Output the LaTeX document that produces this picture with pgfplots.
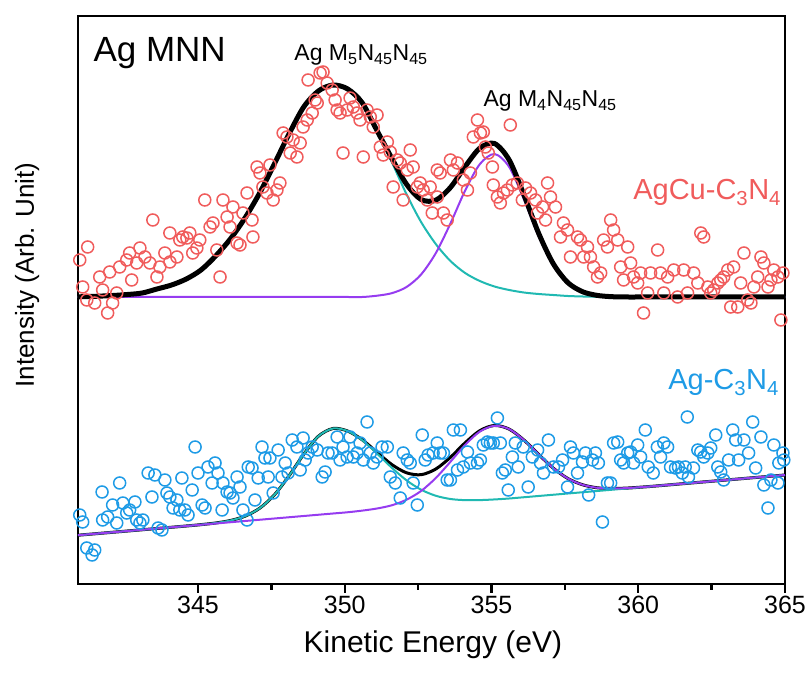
\documentclass[border=0pt]{standalone}
\usepackage{fontspec}
\setmainfont{Liberation Sans}
\usepackage{pgfplots}
\pgfplotsset{compat=1.18}
\definecolor{cred}{RGB}{240,92,92}
\definecolor{cblue}{RGB}{30,155,230}
\definecolor{cteal}{RGB}{32,185,178}
\definecolor{cpurp}{RGB}{150,60,240}
\begin{document}
\begin{tikzpicture}
\useasboundingbox (-78pt,-92pt) rectangle (730pt,584pt);
\begin{axis}[
  scale only axis, width=707pt, height=568pt,
  xmin=340.91, xmax=365, ymin=0, ymax=568,
  xtick={345,350,355,360,365}, minor x tick num=1,
  ytick=\empty, tick pos=bottom, tick align=outside,
  major tick length=9pt, minor tick length=6pt,
  every tick/.style={black, line width=2.4pt},
  axis line style={line width=2.8pt},
  /pgf/number format/assume math mode=true,
  xticklabel style={font=\fontsize{25}{30}\selectfont},
  xlabel={Kinetic Energy (eV)},
  ylabel={Intensity (Arb. Unit)},
  xlabel style={font=\fontsize{30}{36}\selectfont, at={(axis description cs:0.502,-0.107)}, anchor=center},
  ylabel style={font=\fontsize{26}{31}\selectfont, at={(axis description cs:-0.072,0.544)}, anchor=center},
]
% AgCu-C3N4 data
\addplot[only marks, mark=o, mark size=6pt, color=cred, mark options={line width=1.5pt}] coordinates {
(340.97,324)(341.24,337)(341.07,297)(341.21,284)(341.48,281)(341.92,271)(341.75,294)(342.09,281)(341.65,307)(341.99,312)
(342.33,317)(342.23,291)(342.57,324)(342.67,331)(342.91,321)(343.02,336)(342.74,304)(343.19,327)(343.36,321)(343.46,364)
(343.60,307)(343.70,317)(343.87,331)(344.04,322)(344.28,327)(344.04,351)(344.38,344)(344.48,347)(344.62,346)(344.72,351)
(344.82,331)(344.96,336)(345.06,344)(345.23,384)(345.41,357)(345.51,361)(345.64,334)(345.75,307)(345.85,384)(345.99,367)
(346.09,357)(346.19,377)(346.33,341)(346.43,339)(346.53,371)(346.67,391)(346.84,364)(346.87,347)(347.01,417)(347.11,411)
(347.21,397)(347.35,391)(347.45,419)(347.56,384)(347.69,394)(347.79,401)(347.90,451)(348.03,447)(348.14,431)(348.24,444)
(348.37,427)(348.48,441)(348.58,457)(348.72,464)(348.75,504)(348.89,471)(348.99,484)(349.06,481)(349.16,511)(349.26,512)
(349.40,501)(349.57,494)(349.67,484)(349.74,474)(349.84,471)(349.94,431)(350.08,474)(350.18,486)(350.29,477)(350.42,471)
(350.52,464)(350.63,427)(350.76,474)(350.87,467)(350.97,457)(351.10,469)(351.21,437)(351.31,429)(351.45,442)(351.55,432)
(351.65,397)(351.79,424)(351.89,421)(351.99,384)(352.13,414)(352.23,434)(352.33,417)(352.47,397)(352.57,401)(352.67,394)
(352.81,384)(352.98,371)(353.15,387)(353.15,414)(352.91,397)(353.25,411)(353.36,371)(353.49,364)(353.60,424)(353.70,414)
(353.84,421)(354.04,404)(354.18,394)(354.28,411)(354.38,447)(354.52,464)(354.62,451)(354.72,452)(354.79,437)(354.89,431)
(355.03,417)(355.06,399)(355.20,387)(355.30,381)(355.41,391)(355.54,394)(355.64,459)(355.71,399)(355.88,401)(356.05,384)
(356.16,396)(356.33,391)(356.50,384)(356.57,371)(356.74,377)(356.84,364)(356.91,401)(357.01,387)(357.18,377)(357.35,347)
(357.45,361)(357.59,354)(357.69,327)(357.93,347)(358.03,344)(358.14,327)(358.27,337)(358.37,327)(358.48,317)(358.61,307)
(358.72,311)(358.82,344)(358.95,337)(359.06,364)(359.16,354)(359.30,344)(359.40,317)(359.50,304)(359.64,337)(359.74,321)
(359.84,307)(359.98,301)(360.08,311)(360.18,271)(360.32,291)(360.42,311)(360.66,334)(360.76,311)(360.87,291)(361.00,307)
(361.21,314)(361.34,287)(361.55,314)(361.68,291)(361.89,311)(362.03,301)(362.13,351)(362.23,347)(362.37,297)(362.47,291)
(362.57,294)(362.71,301)(362.81,304)(362.91,307)(363.05,314)(363.15,277)(363.25,317)(363.39,277)(363.49,301)(363.60,331)
(363.73,284)(363.84,281)(363.94,297)(364.07,307)(364.18,327)(364.28,321)(364.42,297)(364.52,304)(364.62,314)(364.76,307)
(364.86,264)(364.93,311)
};
% upper fits
\addplot[smooth, color=cteal, line width=2pt] coordinates {
(340.9,287.2)(341.1,287.3)(341.6,287.8)(342.1,288.5)(342.6,289.5)(343.1,291)(343.6,295)(344.1,299)(344.6,305)(345.1,314)
(345.6,328)(346.1,345)(346.6,366)(347.1,391)(347.6,420)(348.1,450)(348.6,477)(349.1,493)(349.6,499)(350.1,495)(350.6,481)
(351.1,452)(351.6,422)(352.1,390)(352.6,362)(353.1,340)(353.6,323)(354.1,311)(354.6,303)(355.1,297.5)(355.6,294)(356.1,291.5)
(356.6,290)(357.1,289)(357.6,288)(358.1,287.5)(358.6,287.2)(359.1,287)(360,287)(362,287)(365,287)
};
\addplot[smooth, color=cpurp, line width=2pt] coordinates {
(340.9,287)(343,287)(346,287)(349.6,287)(350.1,287)(350.6,287)(351.1,288.3)(351.6,290.8)(352.1,296.9)(352.6,309.5)(353.1,330.8)
(353.6,360.5)(354.1,393.4)(354.6,419.8)(355.1,430)(355.6,417.1)(356.1,385)(356.6,348.1)(357.1,318.5)(357.6,300.4)
(358.1,291.8)(358.6,288.4)(359.1,287.3)(359.6,287)(360.1,287)(362,287)(365,287)
};
\addplot[smooth, color=black, line width=5pt] coordinates {
(340.9,287.2)(341.1,287.3)(341.6,287.8)(342.1,288.5)(342.6,289.5)(343.1,291)(343.6,295)(344.1,299)(344.6,305)(345.1,314)
(345.6,328)(346.1,345)(346.6,366)(347.1,391)(347.6,420)(348.1,450)(348.6,477)(349.1,493)(349.6,499)(350.1,495)(350.6,481)
(351.1,453.3)(351.6,425.8)(352.1,399.9)(352.6,384.5)(353.1,383.8)(353.6,396.5)(354.1,417.4)(354.6,435.8)(355.1,440.5)
(355.6,424.1)(356.1,389.5)(356.6,351.1)(357.1,320.5)(357.6,301.4)(358.1,292.3)(358.6,288.6)(359.1,287.3)(359.6,287)
(360.1,287)(362,287)(365,287)
};
% Ag-C3N4 data
\addplot[only marks, mark=o, mark size=6pt, color=cblue, mark options={line width=1.5pt}] coordinates {
(340.97,69)(341.07,62)(341.21,36)(341.39,29)(341.48,34)(341.73,92)(341.75,64)(341.92,67)(342.09,79)(342.23,61)
(342.33,101)(342.44,81)(342.57,71)(342.67,74)(342.85,82)(342.91,64)(343.02,61)(343.12,64)(343.30,111)(343.43,87)
(343.53,109)(343.64,56)(343.77,54)(343.87,104)(343.94,91)(344.04,87)(344.15,76)(344.28,84)(344.38,74)(344.45,106)
(344.55,74)(344.66,69)(344.80,94)(344.90,137)(345.00,111)(345.14,79)(345.24,76)(345.34,117)(345.48,101)(345.58,121)
(345.68,111)(345.82,74)(345.85,101)(345.99,92)(346.09,91)(346.19,86)(346.33,107)(346.43,97)(346.53,74)(346.67,64)
(346.71,117)(346.84,116)(346.94,84)(347.05,106)(347.18,137)(347.28,126)(347.39,107)(347.45,126)(347.56,91)(347.73,134)
(347.86,107)(347.97,121)(348.07,111)(348.21,144)(348.37,137)(348.48,114)(348.58,146)(348.65,124)(348.75,131)(348.89,137)
(349.06,134)(349.23,107)(349.33,112)(349.43,131)(349.57,131)(349.74,147)(349.84,124)(349.94,137)(350.08,127)(350.18,147)
(350.29,127)(350.42,131)(350.52,141)(350.63,124)(350.76,162)(350.87,131)(350.97,121)(351.10,127)(351.27,137)(351.45,137)
(351.55,107)(351.72,101)(351.89,86)(351.99,131)(352.13,124)(352.23,121)(352.33,101)(352.47,79)(352.64,149)(352.74,124)
(352.84,129)(353.01,131)(353.15,141)(353.25,131)(353.36,131)(353.49,104)(353.60,104)(353.70,154)(353.94,154)(353.84,114)
(354.04,117)(354.18,132)(354.28,121)(354.52,121)(354.62,124)(354.72,139)(354.86,142)(354.96,141)(355.06,141)(355.20,166)
(355.30,141)(355.37,111)(355.47,114)(355.57,94)(355.71,127)(355.81,141)(355.91,117)(356.08,137)(356.25,97)(356.39,127)
(356.57,134)(356.67,121)(356.77,111)(356.94,144)(357.11,117)(357.28,117)(357.42,124)(357.59,97)(357.69,137)(357.79,131)
(357.93,111)(358.10,122)(358.20,131)(358.31,89)(358.44,124)(358.54,131)(358.64,121)(358.78,62)(358.95,101)(359.06,101)
(359.16,141)(359.30,142)(359.40,124)(359.50,121)(359.64,131)(359.74,132)(359.84,121)(359.98,139)(360.08,127)(360.24,154)
(360.34,117)(360.51,111)(360.65,137)(360.76,127)(360.87,141)(361.00,137)(361.10,117)(361.27,116)(361.37,117)(361.50,111)
(361.60,117)(361.67,167)(361.71,107)(361.88,116)(362.03,134)(362.13,132)(362.23,127)(362.37,131)(362.47,136)(362.64,149)
(362.71,117)(362.81,112)(362.91,104)(363.08,124)(363.22,154)(363.32,144)(363.42,124)(363.60,144)(363.76,131)(363.90,162)
(364.00,116)(364.18,147)(364.28,99)(364.42,76)(364.52,104)(364.62,139)(364.76,101)(364.79,121)(364.93,131)(364.96,124)
};
% lower fits
\addplot[smooth, color=black, line width=3pt] coordinates {
(340.9,48.75)(341.1,49.25)(342.6,53)(343.6,55.5)(344.6,58)(345.1,59.35)(345.6,61)(346.1,63.45)(346.6,67.8)(347.1,75.75)
(347.6,89.1)(348.1,108.15)(348.6,129.7)(349.1,147.75)(349.6,155.5)(350.1,152.95)(350.6,144.1)(351.1,131.7)(351.6,119.5)
(352.1,111.25)(352.6,109.3)(353.1,114.95)(353.6,126.7)(354.1,141.15)(354.6,153.3)(355.1,158.55)(355.6,154.9)(356.1,144.05)
(356.6,129.7)(357.1,115.95)(357.6,105.5)(358.1,99.25)(358.6,96.2)(359.1,95.5)(359.6,95.9)(360.1,96.85)(360.6,98)
(362.1,101.75)(363.6,105.5)(365,109)
};
\addplot[smooth, color=cteal, line width=2pt] coordinates {
(340.9,48.75)(341.1,49.25)(342.6,53)(343.6,55.5)(344.6,58)(345.1,59.35)(345.6,61)(346.1,63.45)(346.6,67.8)(347.1,75.75)
(347.6,89.1)(348.1,108.15)(348.6,129.7)(349.1,147.75)(349.6,155.5)(350.1,152.95)(350.6,143.7)(351.1,130.45)(351.6,116.3)
(352.1,103.75)(352.6,94.3)(353.1,88.25)(353.6,85)(354.1,83.85)(354.6,83.9)(355.1,84.55)(355.6,85.5)(356.1,86.75)
(357.1,89.25)(358.6,93)(360.1,96.75)(362.1,101.75)(363.6,105.5)(365,109)
};
\addplot[smooth, color=cpurp, line width=2pt] coordinates {
(340.9,48.75)(341.1,49.25)(342.6,53)(344.6,58)(346.6,63)(348.6,68)(349.6,70.5)(350.1,71.75)(350.6,73.4)(351.1,75.5)
(351.6,78.7)(352.1,84.25)(352.6,93)(353.1,105.95)(353.6,122.2)(354.1,139.05)(354.6,152.4)(355.1,158.25)(355.6,154.9)
(356.1,144.05)(356.6,129.7)(357.1,115.95)(357.6,105.5)(358.1,99.25)(358.6,96.2)(359.1,95.5)(359.6,95.9)(360.1,96.85)
(360.6,98)(362.1,101.75)(363.6,105.5)(365,109)
};
% labels
\node[anchor=base west, font=\fontsize{35}{40}\selectfont] at (axis cs:341.32,522) {Ag MNN};
\node[anchor=base west, inner sep=0pt, font=\fontsize{23}{27}\selectfont] at (axis cs:348.28,523) {Ag M\textsubscript{5}N\textsubscript{45}N\textsubscript{45}};
\node[anchor=base west, inner sep=0pt, font=\fontsize{23}{27}\selectfont] at (axis cs:354.72,477) {Ag M\textsubscript{4}N\textsubscript{45}N\textsubscript{45}};
\node[anchor=base east, inner sep=0pt, text=cred, font=\fontsize{29}{34}\selectfont] at (axis cs:364.87,384) {AgCu-C\textsubscript{3}N\textsubscript{4}};
\node[anchor=base east, inner sep=0pt, text=cblue, font=\fontsize{29}{34}\selectfont] at (axis cs:364.80,194) {Ag-C\textsubscript{3}N\textsubscript{4}};
\end{axis}
\end{tikzpicture}
\end{document}
